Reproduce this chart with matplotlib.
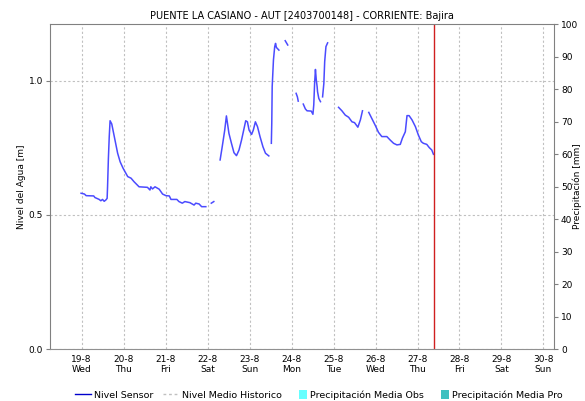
import numpy as np
import matplotlib
matplotlib.use('Agg')
import matplotlib.pyplot as plt
from matplotlib.lines import Line2D
from matplotlib.patches import Patch, Rectangle
from matplotlib.legend_handler import HandlerPatch

# sensor level, day of August (fractional) and level in m; nan = gap in record
nan = np.nan
days = [18.99, 19.07, 19.11, 19.29, 19.32, 19.42, 19.46, 19.50, 19.54, 19.58,
        19.61, 19.62, 19.64, 19.66, 19.68, 19.72, 19.75, 19.80, 19.86, 19.92,
        19.99, 20.10, 20.18, 20.25, 20.37, 20.57, 20.63, 20.65, 20.69, 20.75,
        20.85, 20.93, 21.01, 21.09, 21.13, 21.27, 21.32, 21.40, 21.46, 21.58,
        21.68, 21.72, 21.80, 21.86, 21.96, nan,
        22.09, 22.15, nan,
        22.30, 22.35, 22.41, 22.45, 22.47, 22.51, 22.57, 22.63, 22.69, 22.75,
        22.81, 22.87, 22.91, 22.95, 22.99, 23.05, 23.09, 23.14, 23.19, 23.25,
        23.32, 23.38, 23.46, nan,
        23.52, 23.53, 23.54, 23.57, 23.60, 23.62, 23.64, 23.70, nan,
        23.85, 23.91, nan,
        24.11, 24.14, 24.16, nan,
        24.28, 24.33, 24.37, 24.47, 24.51, 24.53, 24.55, 24.57, 24.59, 24.61,
        24.62, 24.65, 24.69, nan,
        24.74, 24.77, 24.79, 24.82, 24.86, nan,
        25.12, 25.20, 25.28, 25.36, 25.44, 25.50, 25.58, 25.64, 25.69, nan,
        25.84, 25.92, 26.00, 26.07, 26.15, 26.27, 26.35, 26.43, 26.51, 26.59,
        26.64, 26.71, 26.75, 26.80, 26.87, 26.95, 27.02, 27.09, 27.14, 27.22,
        27.28, 27.34, 27.38]
nivel = [0.581, 0.578, 0.572, 0.571, 0.565, 0.558, 0.553, 0.558, 0.551, 0.556,
         0.562, 0.605, 0.711, 0.791, 0.851, 0.839, 0.816, 0.779, 0.730, 0.698,
         0.674, 0.643, 0.637, 0.624, 0.605, 0.603, 0.593, 0.605, 0.597, 0.605,
         0.596, 0.578, 0.572, 0.571, 0.558, 0.558, 0.550, 0.544, 0.550, 0.546,
         0.537, 0.544, 0.541, 0.531, 0.531, nan,
         0.544, 0.550, nan,
         0.705, 0.754, 0.816, 0.869, 0.847, 0.804, 0.767, 0.732, 0.721, 0.742,
         0.779, 0.823, 0.851, 0.847, 0.816, 0.800, 0.816, 0.847, 0.829, 0.792,
         0.754, 0.730, 0.720, nan,
         0.767, 0.841, 0.978, 1.077, 1.127, 1.139, 1.124, 1.114, nan,
         1.149, 1.133, nan,
         0.953, 0.940, 0.924, nan,
         0.913, 0.895, 0.888, 0.887, 0.875, 0.910, 0.990, 1.042, 1.003, 0.978,
         0.959, 0.934, 0.922, nan,
         0.940, 0.990, 1.071, 1.127, 1.141, nan,
         0.901, 0.888, 0.872, 0.864, 0.847, 0.844, 0.827, 0.854, 0.888, nan,
         0.882, 0.857, 0.832, 0.808, 0.792, 0.792, 0.779, 0.767, 0.761, 0.763,
         0.786, 0.810, 0.870, 0.870, 0.854, 0.829, 0.798, 0.773, 0.767, 0.763,
         0.751, 0.742, 0.726]

tick_days = [19, 20, 21, 22, 23, 24, 25, 26, 27, 28, 29, 30]
tick_names = ['Wed', 'Thu', 'Fri', 'Sat', 'Sun', 'Mon', 'Tue', 'Wed', 'Thu', 'Fri', 'Sat', 'Sun']
now_day = 27.39


def narrow_patch(legend, orig_handle, xdescent, ydescent, width, height, fontsize):
    # small square swatch like the original legend
    return Rectangle((width - 6 - xdescent, -ydescent - 1), 6, height + 2)


plt.rcParams['font.family'] = 'DejaVu Sans'
plt.rcParams['font.size'] = 6.5

fig = plt.figure(figsize=(5.85, 4.01), dpi=100)
ax = fig.add_axes([0.0855, 0.129, 0.8615, 0.811])

ax.plot(days, nivel, color='#4b4bff', lw=1.1)
ax.axvline(now_day, color='#d02020', lw=1.0)

ax.set_xlim(18.25, 30.25)
ax.set_ylim(0, 1.211)
ax.set_xticks(tick_days)
ax.set_xticklabels([f'{d}-8\n{n}' for d, n in zip(tick_days, tick_names)])
ax.set_yticks([0.0, 0.5, 1.0])
ax.set_yticklabels(['0.0', '0.5', '1.0'])
ax.tick_params(axis='x', length=0, pad=4)
ax.tick_params(axis='y', length=3, color='#808080', pad=2)

ax.grid(True, color='#c0c0c0', linestyle=(0, (2, 2)), lw=0.8)
for s in ['left', 'top', 'right']:
    ax.spines[s].set_color('#808080')
ax.spines['bottom'].set_color('#909090')
ax.spines['bottom'].set_linestyle((0, (1, 1)))
ax.set_title('PUENTE LA CASIANO - AUT [2403700148] - CORRIENTE: Bajira', fontsize=7, pad=4)

ax2 = ax.twinx()
ax2.set_ylim(0, 100)
ax2.set_yticks(range(0, 101, 10))
ax2.tick_params(axis='y', length=3, color='#808080', pad=2)
for s in ['left', 'top', 'right', 'bottom']:
    ax2.spines[s].set_visible(False)

fig.text(0.036, 0.535, 'Nivel del Agua [m]', rotation=90, ha='center', va='center')
fig.text(0.986, 0.535, 'Precipitación [mm]', rotation=90, ha='center', va='center')

handles = [Line2D([], [], color='#0000cc', lw=1.0),
           Line2D([], [], color='#c0c0c0', lw=1.0, linestyle=(0, (2, 2))),
           Patch(facecolor='#66ffff', edgecolor='none'),
           Patch(facecolor='#40c0c0', edgecolor='none')]
labels = ['Nivel Sensor', 'Nivel Medio Historico', 'Precipitación Media Obs', 'Precipitación Media Pro']
fig.legend(handles, labels, loc='center', bbox_to_anchor=(0.545, 0.015), ncol=4, frameon=False,
           handlelength=1.7, handletextpad=0.3, columnspacing=1.0, fontsize=6.8,
           handler_map={Patch: HandlerPatch(patch_func=narrow_patch)})

fig.savefig('out.png', dpi=100)
